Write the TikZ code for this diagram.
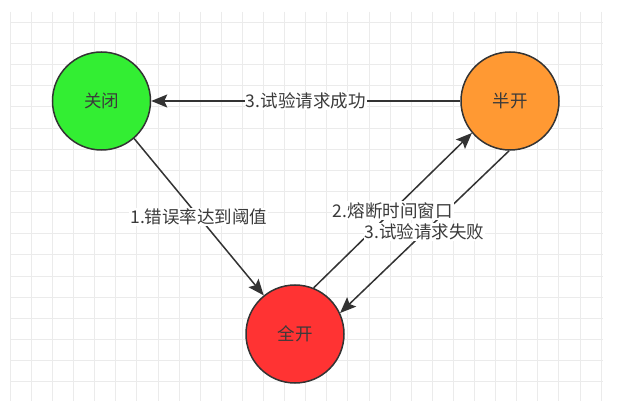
\documentclass[tikz,border=0pt]{standalone}
\usepackage{fontspec}
\setmainfont{Noto Sans CJK SC}
\usetikzlibrary{arrows.meta}

\definecolor{gridgray}{HTML}{EBEBEB}
\definecolor{linegray}{HTML}{333333}
\definecolor{textgray}{HTML}{3A3A3A}
\definecolor{closedgreen}{HTML}{33EE33}
\definecolor{halforange}{HTML}{FF9933}
\definecolor{openred}{HTML}{FF3333}

\begin{document}
\begin{tikzpicture}[x = 1pt, y = -1pt,
        font = \fontsize{17.5}{20}\selectfont,
        state/.style = {circle, draw = linegray, line width = 1.5pt, minimum size = 98pt, inner sep = 0pt, text = textgray},
        trans/.style = {draw = linegray, line width = 1.5pt, -{Stealth[length = 16pt, width = 13pt, inset = 3pt]}},
        edgetext/.style = {fill = white, inner sep = 1pt, text = textgray}]

        \useasboundingbox [fill = white] (0, 0) rectangle (630, 401);

        % grid
        \foreach \x in {0, ..., 28}
            \draw [gridgray] (10 + 21.1*\x, 12) -- (10 + 21.1*\x, 401);
        \foreach \y in {0, ..., 17}
            \draw [gridgray] (10, 22 + 21.15*\y) -- (603, 22 + 21.15*\y);

        % states
        \node [state, fill = closedgreen] (closed) at (101.5, 101) {关闭};
        \node [state, fill = halforange] (halfopen) at (510, 101) {半开};
        \node [state, fill = openred] (open) at (295, 334) {全开};

        % transitions
        \draw [trans] (closed.-49) -- (open.129);
        \draw [trans] (open.68) -- (halfopen.-140);
        \draw [trans] (halfopen.-91) -- (open.25);
        \draw [trans] (halfopen.west) -- (closed.east);

        % labels
        \path (closed.-49) -- (open.129) node [edgetext, midway] {1.错误率达到阈值};
        \path (open.68) -- (halfopen.-140) node [edgetext, midway] {2.熔断时间窗口};
        \path (halfopen.-91) -- (open.25) node [edgetext, midway] {3.试验请求失败};
        \path (halfopen.west) -- (closed.east) node [edgetext, midway] {3.试验请求成功};
    \end{tikzpicture}
\end{document}
